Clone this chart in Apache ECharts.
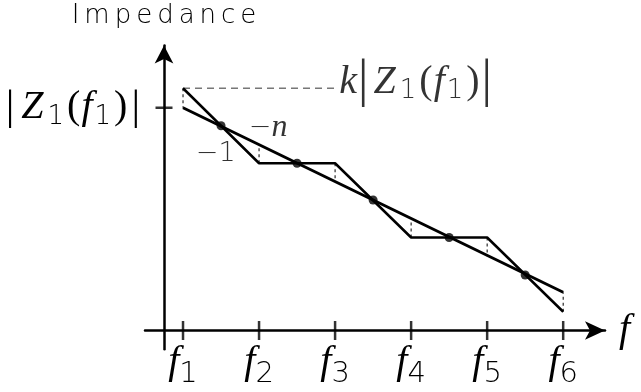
<!DOCTYPE html>
<html>
<head>
<meta charset="utf-8">
<script src="https://cdn.jsdelivr.net/npm/echarts@6/dist/echarts.min.js"></script>
<style>
  html, body { margin: 0; padding: 0; background: #fff; }
  #chart { width: 641px; height: 392px; }
</style>
</head>
<body>
<div id="chart"></div>
<script>
// frequency positions f1..f6 (y axis sits at 0)
const fTicks = [0.25, 1.25, 2.25, 3.25, 4.25, 5.25];
const fIndex = ['1', '2', '3', '4', '5', '6'];
// step-like asymptote (-1 slopes and flats), value at each f
const stepLine = [3.23, 2.23, 2.23, 1.24, 1.24, 0.25];
// straight -n fit, value at each f
const fitLine = [2.97, 2.47, 1.99, 1.47, 0.99, 0.51];
// crossing points of both curves
const crossX = [0.75, 1.75, 2.75, 3.75, 4.75];
const crossY = [2.73, 2.23, 1.74, 1.24, 0.74];
// reference levels
const z1Level = 2.97;
const kZ1Level = 3.23;
const kZ1End = 2.28;
// slope annotations
const slopeNotes = [
  { text: '{op|\u2212}{n|n}', at: [1.37, 2.70] },
  { text: '{op|\u22121}', at: [0.68, 2.36] }
];
const yTitle = 'Impedance';

const SERIF = "'Liberation Serif'";
const SANS = "'DejaVu Sans'";

function mathRich(barSize, barPad) {
  return {
    m: { fontFamily: SERIF, fontStyle: 'italic', fontSize: 40, color: '#000', verticalAlign: 'middle' },
    z: { fontFamily: SERIF, fontStyle: 'italic', fontSize: 40, color: '#000', verticalAlign: 'middle', padding: [0, 2, 0, 4] },
    r: { fontFamily: SERIF, fontSize: 40, color: '#000', verticalAlign: 'middle', padding: [0, 1, 0, 3] },
    b: { fontFamily: SERIF, fontSize: barSize, color: '#000', verticalAlign: 'middle', padding: [0, barPad, 0, barPad] },
    s: { fontFamily: SANS, fontWeight: 200, fontSize: 26, color: '#000', verticalAlign: 'middle', padding: [18, 0, 0, 2] }
  };
}
const zLabel = '{b||}{z|Z}{s|1}{r|(}{m|f}{s|1}{r|)}{b||}';

// dashed connectors between the two curves at each f
const connectors = [];
fTicks.forEach((x, i) => {
  connectors.push([x, stepLine[i]], [x, fitLine[i]], [x, '-']);
});

const chart = echarts.init(document.getElementById('chart'), null, { renderer: 'canvas' });

chart.setOption({
  animation: false,
  backgroundColor: '#fff',
  grid: { left: 145, top: 45.5, width: 460, height: 303.75, containLabel: false, outerBoundsMode: 'none' },
  xAxis: {
    type: 'value',
    min: -0.25,
    max: 5.8,
    name: 'f',
    nameLocation: 'end',
    nameGap: 14,
    nameTextStyle: { fontFamily: SERIF, fontStyle: 'italic', fontSize: 40, color: '#000' },
    axisLine: { onZero: true, symbol: ['none', 'arrow'], symbolSize: [14, 20], lineStyle: { color: '#000', width: 2.5 } },
    axisTick: { show: false },
    splitLine: { show: false },
    axisLabel: {
      customValues: fTicks,
      margin: -13,
      formatter: v => '{m|f}{s|' + fIndex[fTicks.indexOf(v)] + '}',
      rich: {
        m: { fontFamily: SERIF, fontStyle: 'italic', fontSize: 40, color: '#000', verticalAlign: 'middle' },
        s: { fontFamily: SANS, fontWeight: 200, fontSize: 29, color: '#000', verticalAlign: 'middle', padding: [24, 0, 0, 0] }
      }
    }
  },
  yAxis: {
    type: 'value',
    min: -0.25,
    max: 3.8,
    name: yTitle.split('').map(c => '{t|' + c + '}').join(''),
    nameLocation: 'end',
    nameGap: 16,
    nameTextStyle: {
      align: 'center',
      rich: { t: { fontFamily: SANS, fontWeight: 200, fontSize: 26, color: '#000', padding: [0, 2.5, 0, 2.5] } }
    },
    axisLine: { onZero: true, symbol: ['none', 'arrow'], symbolSize: [14, 18], lineStyle: { color: '#000', width: 2.5 } },
    axisTick: { show: false },
    splitLine: { show: false },
    axisLabel: {
      customValues: [z1Level],
      margin: 2,
      formatter: () => zLabel,
      rich: mathRich(43, 3)
    }
  },
  series: [
    {
      type: 'line',
      data: connectors,
      symbol: 'none',
      lineStyle: { color: '#000', width: 1, type: [3, 3] },
      z: 1
    },
    {
      type: 'line',
      data: [[fTicks[0], kZ1Level], [kZ1End, kZ1Level]],
      symbol: 'none',
      lineStyle: { color: '#777', width: 1.3, type: [7, 5] },
      z: 1
    },
    {
      type: 'line',
      data: fTicks.map((x, i) => [x, stepLine[i]]),
      symbol: 'none',
      lineStyle: { color: '#000', width: 2.5 },
      z: 2
    },
    {
      type: 'line',
      data: [[fTicks[0], fitLine[0]], [fTicks[5], fitLine[5]]],
      symbol: 'none',
      lineStyle: { color: '#000', width: 3 },
      z: 2
    },
    {
      type: 'scatter',
      data: crossX.map((x, i) => [x, crossY[i]]),
      symbolSize: 9,
      itemStyle: { color: '#000' },
      z: 3
    },
    {
      // tick marks crossing the axes
      type: 'scatter',
      data: fTicks.map(x => ({ value: [x, 0], symbolSize: [2.5, 19] }))
        .concat([{ value: [0, z1Level], symbolSize: [17, 2.5] }]),
      symbol: 'rect',
      itemStyle: { color: '#000' },
      z: 3
    },
    {
      type: 'scatter',
      data: [{ value: [kZ1End, kZ1Level] }],
      symbolSize: 0,
      label: {
        show: true,
        position: 'right',
        distance: 2,
        offset: [0, -6],
        formatter: '{m|k}' + zLabel,
        rich: mathRich(52, 1)
      }
    },
    {
      type: 'scatter',
      data: slopeNotes.map(n => ({ value: n.at, label: { formatter: n.text } })),
      symbolSize: 0,
      label: {
        show: true,
        position: 'inside',
        rich: {
          n: { fontFamily: SERIF, fontStyle: 'italic', fontSize: 32, color: '#000', verticalAlign: 'middle' },
          op: { fontFamily: SANS, fontWeight: 200, fontSize: 27, color: '#000', verticalAlign: 'middle' }
        }
      }
    }
  ]
});
</script>
</body>
</html>
